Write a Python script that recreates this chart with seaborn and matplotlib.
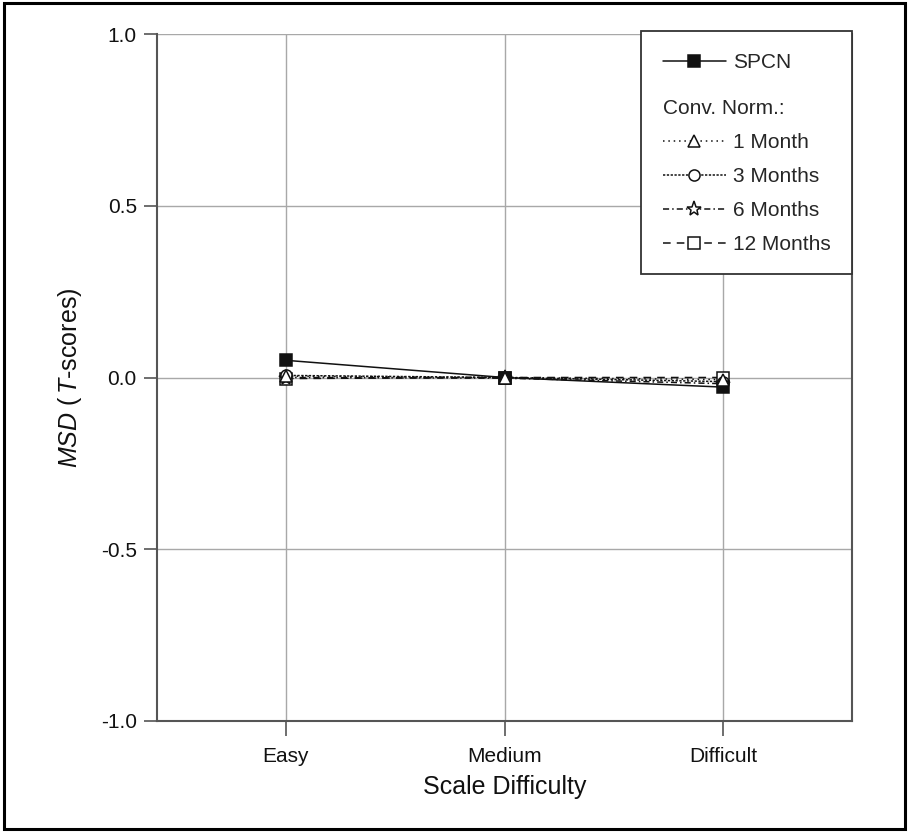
import matplotlib
matplotlib.use("Agg")
import matplotlib.pyplot as plt
import seaborn as sns
import pandas as pd
from matplotlib.lines import Line2D
from matplotlib.patches import Rectangle

categories = ["Easy", "Medium", "Difficult"]
spcn = [0.05, 0.0, -0.028]
m1 = [0.004, 0.0, -0.006]
m3 = [0.006, 0.0, -0.012]
m6 = [0.0, -0.002, -0.018]
m12 = [-0.003, 0.0, 0.0]
yticks = [1.0, 0.5, 0.0, -0.5, -1.0]

sns.set_theme(style="white")
plt.rcParams["font.family"] = ["Liberation Sans", "DejaVu Sans"]
plt.rcParams["mathtext.fontset"] = "custom"
plt.rcParams["mathtext.rm"] = "Liberation Sans"
plt.rcParams["mathtext.it"] = "Liberation Sans:italic"

fig = plt.figure(figsize=(9.09, 8.32), dpi=100)
ax = fig.add_axes([157/909, 1-721/832, (852-157)/909, (721-34)/832])

series = [
    ("12 Months", m12, (0, (5, 4)), "s", "white", 8),
    ("6 Months", m6, (0, (4, 2, 1, 2)), "*", "white", 11),
    ("3 Months", m3, (0, (1.5, 1)), "o", "white", 8),
    ("SPCN", spcn, "-", "s", "#111111", 9),
    ("1 Month", m1, (0, (1, 2.5)), "^", "white", 9),
]
handles = {}
for name, vals, ls, mk, fc, ms in series:
    df = pd.DataFrame({"x": range(len(categories)), "y": vals})
    sns.lineplot(data=df, x="x", y="y", ax=ax, color="#111111", linestyle=ls,
                 linewidth=1.1, marker=mk, markersize=ms, markerfacecolor=fc,
                 markeredgecolor="#111111", markeredgewidth=1.1, zorder=3)
    handles[name] = Line2D([], [], color="#111111", linestyle=ls, linewidth=1.1,
                           marker=mk, markersize=ms, markerfacecolor=fc,
                           markeredgecolor="#111111", markeredgewidth=1.1)

ax.set_xlim(-0.59, 2.59)
ax.set_ylim(-1.0, 1.0)
ax.set_xticks(range(len(categories)))
ax.set_xticklabels(categories)
ax.set_yticks(yticks)
ax.set_yticklabels([f"{v:.1f}" for v in yticks])
ax.grid(True, color="#a8a8a8", linewidth=1.0)
ax.set_axisbelow(True)
for s in ["left", "bottom", "right"]:
    ax.spines[s].set_color("#555555")
    ax.spines[s].set_linewidth(1.5)
ax.spines["top"].set_visible(False)
ax.tick_params(axis="both", which="both", direction="out", width=1.2,
               color="#555555", labelsize=15, left=True, bottom=True,
               labelcolor="#111111")
ax.tick_params(axis="x", length=11, pad=8)
ax.tick_params(axis="y", length=9.5, pad=5)
ax.set_xlabel("Scale Difficulty", fontsize=18, labelpad=6, color="#111111")
ax.set_ylabel(r"$MSD$ ($\,T$-scores)", fontsize=18, labelpad=12, color="#111111")

# legend frame
fx0 = (641 - 157) / 695
fy0 = (721 - 274) / 687
fy1 = (721 - 31) / 687
ax.add_patch(Rectangle((fx0, fy0), 1.0 - fx0, fy1 - fy0, transform=ax.transAxes,
                       facecolor="white", edgecolor="#333333", linewidth=1.3,
                       zorder=5, clip_on=False))

hx = (663 - 157) / 695
common = dict(fontsize=15, frameon=False, handlelength=3.0, handletextpad=0.37,
              borderpad=0, borderaxespad=0)
leg1 = ax.legend([handles["SPCN"]], ["SPCN"], loc="center left",
                 bbox_to_anchor=(hx, (721 - 63) / 687), **common)
leg1.set_zorder(6)
ax.add_artist(leg1)
leg2 = ax.legend([handles["1 Month"], handles["3 Months"], handles["6 Months"],
                  handles["12 Months"]],
                 ["1 Month", "3 Months", "6 Months", "12 Months"],
                 title="Conv. Norm.:", title_fontsize=15, alignment="left",
                 loc="upper left", bbox_to_anchor=(hx, (721 - 99) / 687),
                 labelspacing=0.72, **common)
leg2.set_zorder(6)

fig.patches.append(Rectangle((0.004, 0.004), 0.992, 0.992, transform=fig.transFigure,
                             fill=False, edgecolor="black", linewidth=2.2))

fig.savefig("out.png", dpi=100, facecolor="white")
